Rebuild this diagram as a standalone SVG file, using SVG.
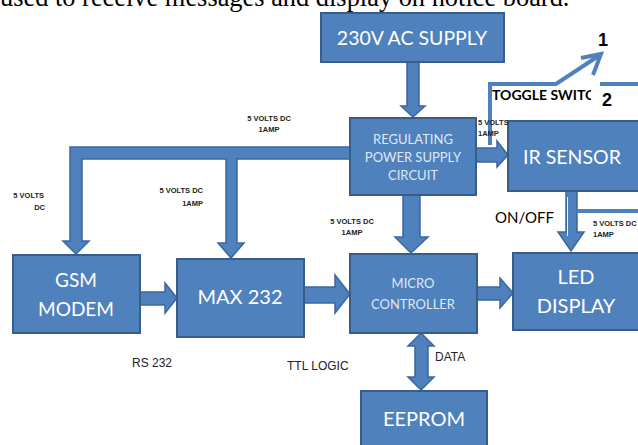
<svg xmlns="http://www.w3.org/2000/svg" width="638" height="445" viewBox="0 0 638 445">
<style>
.box{fill:#4F81BD;stroke:#385D8A;stroke-width:2}
.arr{fill:#4F81BD;stroke:#3A679E;stroke-width:1.5;stroke-linejoin:miter}
.ln{fill:none;stroke:#4F81BD;stroke-width:4}
.t{font-family:Lato,"Open Sans",sans-serif;fill:#fff;text-anchor:middle}
.tl{font-family:Lato,"Open Sans",sans-serif;fill:#dfe8f3;text-anchor:middle;font-size:13px}
.s{font-family:"Liberation Sans",Arial,sans-serif;font-size:7.5px;font-weight:bold;fill:#222}
.m{font-family:"Liberation Sans",Arial,sans-serif;font-size:12px;fill:#222}
</style>
<defs>
<clipPath id="tsclip"><rect x="480" y="85" width="111" height="20"/></clipPath>
</defs>
<rect width="638" height="445" fill="#fff"/>
<text x="0" y="6" font-family="'Liberation Serif','Times New Roman',serif" font-size="26.4" fill="#000">used to receive messages and display on notice board.</text>

<g id="connectors">
<polygon class="arr" points="407,62 419,62 419,106 425,106 413,117 401,106 407,106"/>
<polygon class="arr" points="350,147 70,147 70,241 63,241 76,254 89,241 82,241 82,159 226,159 226,243 218,243 231,258 244,243 237,243 237,159 350,159"/>
<polygon class="arr" points="403,195 420,195 420,237 428,237 411,253 395,237 403,237"/>
<polygon class="arr" points="476,148 497,148 497,141 508,155 497,167 497,162 476,162"/>
<polygon class="arr" points="140,292 165,292 165,283 177,298 165,313 165,305 140,305"/>
<polygon class="arr" points="304,287 335,287 335,275 350,294 335,313 335,303 304,303"/>
<polygon class="arr" points="477,287 500,287 500,278 513,293 500,308 500,300 477,300"/>
<polygon class="arr" points="566,191 577,191 577,232 584,232 571,251 558,232 566,232"/>
<line x1="567.5" y1="197" x2="567.5" y2="236" stroke="#eef2f8" stroke-width="1"/>
<rect x="577" y="209" width="62" height="4" fill="#4F81BD"/>
<polygon class="arr" points="421,333 434,346 428,346 428,377 434,377 421,390 408,377 415,377 415,346 408,346"/>
<polyline class="ln" points="490,145 490,84 556,84 600,55"/>
<polyline class="ln" points="581,58 601,54 593,75"/>
<rect x="600" y="82" width="39" height="4" fill="#4F81BD"/>
</g>

<g id="ac"><rect class="box" x="321" y="13" width="183" height="49"/><text class="t" x="412" y="45" font-size="19.5">230V AC SUPPLY</text></g>
<g id="reg"><rect class="box" x="350" y="118" width="126" height="77"/>
<text class="tl" x="413" y="144">REGULATING</text><text class="tl" x="413" y="162">POWER SUPPLY</text><text class="tl" x="413" y="180">CIRCUIT</text></g>
<g id="ir"><rect class="box" x="508" y="121" width="135" height="70"/><text class="t" x="572" y="164" font-size="19.5">IR SENSOR</text></g>
<g id="gsm"><rect class="box" x="13" y="255" width="127" height="78"/><text class="t" x="76" y="287" font-size="19">GSM</text><text class="t" x="76" y="316" font-size="19">MODEM</text></g>
<g id="max"><rect class="box" x="177" y="259" width="127" height="78"/><text class="t" x="240" y="304" font-size="20">MAX 232</text></g>
<g id="micro"><rect class="box" x="350" y="254" width="127" height="79"/><text class="tl" x="413" y="288" font-size="14">MICRO</text><text class="tl" x="413" y="309" font-size="14">CONTROLLER</text></g>
<g id="led"><rect class="box" x="513" y="253" width="130" height="77"/><text class="t" x="576" y="284" font-size="20">LED</text><text class="t" x="576" y="313" font-size="20">DISPLAY</text></g>
<g id="eeprom"><rect class="box" x="361" y="391" width="126" height="60"/><text class="t" x="424" y="426" font-size="20">EEPROM</text></g>

<g id="labels">
<text class="s" x="269" y="121" text-anchor="middle">5 VOLTS DC</text>
<text class="s" x="269" y="132" text-anchor="middle">1AMP</text>
<text class="s" x="44" y="198" text-anchor="end">5 VOLTS</text>
<text class="s" x="45" y="210" text-anchor="end">DC</text>
<text class="s" x="203" y="193" text-anchor="end">5 VOLTS DC</text>
<text class="s" x="203" y="206" text-anchor="end">1AMP</text>
<text class="s" x="352" y="224" text-anchor="middle">5 VOLTS DC</text>
<text class="s" x="352" y="235" text-anchor="middle">1AMP</text>
<text class="s" x="478" y="125">5 VOLTS</text>
<text class="s" x="478" y="136">1AMP</text>
<text class="s" x="593" y="226">5 VOLTS DC</text>
<text class="s" x="593" y="237">1AMP</text>
<text class="m" x="132" y="367">RS 232</text>
<text class="m" x="287" y="370" font-size="11">TTL LOGIC</text>
<text class="m" x="435" y="361">DATA</text>
<text x="495" y="223" font-family="Lato,'Open Sans',sans-serif" font-size="15" fill="#000">ON/OFF</text>
<text x="492" y="100" font-family="Lato,'Open Sans',sans-serif" font-size="14" font-weight="bold" fill="#000" clip-path="url(#tsclip)">TOGGLE SWITCH</text>
<text x="603" y="46" font-family="'Liberation Sans',Arial,sans-serif" font-size="18" font-weight="bold" fill="#000" text-anchor="middle">1</text>
<text x="607" y="106" font-family="'Liberation Sans',Arial,sans-serif" font-size="18" font-weight="bold" fill="#000" text-anchor="middle">2</text>
</g>
</svg>
